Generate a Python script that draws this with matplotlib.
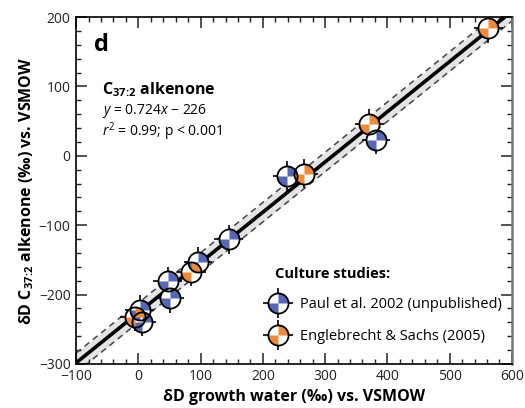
import numpy as np
import matplotlib.pyplot as plt
from matplotlib.path import Path
from matplotlib.lines import Line2D
from matplotlib.ticker import MultipleLocator

plt.rcParams['font.family'] = ['Open Sans', 'DejaVu Sans']
plt.rcParams['mathtext.fontset'] = 'custom'
plt.rcParams['mathtext.rm'] = 'Open Sans'
plt.rcParams['mathtext.it'] = 'Open Sans:italic'
plt.rcParams['mathtext.bf'] = 'Open Sans:bold'

# Culture studies: dD of growth water vs. dD of C37:2 alkenone (permil, VSMOW)
paul_water = [145, 96, 47, 51, 2, 6, 239, 382]
paul_alk = [-120, -153, -181, -205, -222, -239, -29, 23]
eng_water = [-6, 85, 266, 371, 562]
eng_alk = [-232, -167, -26, 46, 184]

# analytical uncertainty (error bar half-widths)
err_water = 23
err_alk = 21

# regression y = 0.724x - 226 and its prediction band
slope, intercept = 0.724, -226
band = 14

blue = '#5468b4'
orange = '#ee8a3c'

# marker: two filled quadrants inside a circle
quad = Path.make_compound_path(Path.wedge(0, 90), Path.wedge(180, 270))
msize = 14.5

sub = r'$_{\mathbf{37\!:\!2}}$'


def draw_points(ax, xs, ys, color):
    ax.errorbar(xs, ys, xerr=err_water, yerr=err_alk, fmt='none',
                ecolor='black', elinewidth=1.2, capsize=0, zorder=4)
    ax.plot(xs, ys, 'o', ms=msize, mfc='white', mec='none', zorder=5)
    ax.plot(xs, ys, ls='none', marker=quad, ms=msize, mfc=color, mec='none', zorder=6)
    ax.plot(xs, ys, 'o', ms=msize, mfc='none', mec='black', mew=1.3, zorder=7)


def legend_handle(color):
    return (Line2D([], [], ls='none', marker='+', ms=21, mew=1.2, color='black'),
            Line2D([], [], ls='none', marker='o', ms=msize, mfc='white', mec='none'),
            Line2D([], [], ls='none', marker=quad, ms=msize, mfc=color, mec='none'),
            Line2D([], [], ls='none', marker='o', ms=msize, mfc='none', mec='black', mew=1.3))


fig = plt.figure(figsize=(5.25, 4.08), dpi=100)
ax = fig.add_axes([0.145, 0.108, 0.83, 0.85])

xl = np.array([-100, 600])
yl = slope * xl + intercept
ax.fill_between(xl, yl - band, yl + band, color='#e4e4e4', lw=0, zorder=1)
ax.plot(xl, yl + band, '--', color='#444444', lw=1.1, dashes=(4, 3), zorder=2)
ax.plot(xl, yl - band, '--', color='#444444', lw=1.1, dashes=(4, 3), zorder=2)
ax.plot(xl, yl, color='black', lw=2.6, zorder=3)

draw_points(ax, paul_water, paul_alk, blue)
draw_points(ax, eng_water, eng_alk, orange)

ax.set_xlim(-100, 600)
ax.set_ylim(-300, 200)
ax.xaxis.set_major_locator(MultipleLocator(100))
ax.xaxis.set_minor_locator(MultipleLocator(20))
ax.yaxis.set_major_locator(MultipleLocator(100))
ax.yaxis.set_minor_locator(MultipleLocator(20))
ax.tick_params(which='both', direction='in', top=True, right=True,
               labelsize=10, colors='#222222', pad=4)
ax.tick_params(which='major', length=8, width=1.1)
ax.tick_params(which='minor', length=3.5, width=1.0)
for side in ['left', 'bottom', 'top']:
    ax.spines[side].set_linewidth(1.2)
ax.spines['right'].set_linewidth(1.8)
ax.spines['right'].set_color('#777777')

ax.set_xlabel('δD growth water (‰) vs. VSMOW', fontsize=11.5,
              fontweight='bold', labelpad=3)
ax.set_ylabel('δD C' + sub + ' alkenone (‰) vs. VSMOW', fontsize=11.5,
              fontweight='bold', labelpad=2)

ax.text(0.04, 0.92, 'd', transform=ax.transAxes, fontsize=17,
        fontweight='bold', va='center')
ax.text(0.06, 0.79, 'C' + sub + ' alkenone', transform=ax.transAxes,
        fontsize=11.5, fontweight='bold', va='center')
ax.text(0.06, 0.73, r'$\mathit{y}$ = 0.724$\mathit{x}$ − 226',
        transform=ax.transAxes, fontsize=10, va='center')
ax.text(0.06, 0.67, r'$\mathit{r}^2$ = 0.99; p < 0.001',
        transform=ax.transAxes, fontsize=10, va='center')

# legend block, placed in figure pixels
ax.text(275 / 525, 1 - 274 / 408, 'Culture studies:', transform=fig.transFigure,
        fontsize=10.5, fontweight='bold', va='center', ha='left')
leg = ax.legend([legend_handle(blue), legend_handle(orange)],
                ['Paul et al. 2002 (unpublished)', 'Englebrecht & Sachs (2005)'],
                loc='upper left', bbox_to_anchor=(268 / 525, 1 - 297 / 408),
                bbox_transform=fig.transFigure, borderpad=0, borderaxespad=0,
                frameon=False, fontsize=10.5, handlelength=1.4,
                handletextpad=0.8, labelspacing=1.15)

fig.savefig('out.png', dpi=100)
